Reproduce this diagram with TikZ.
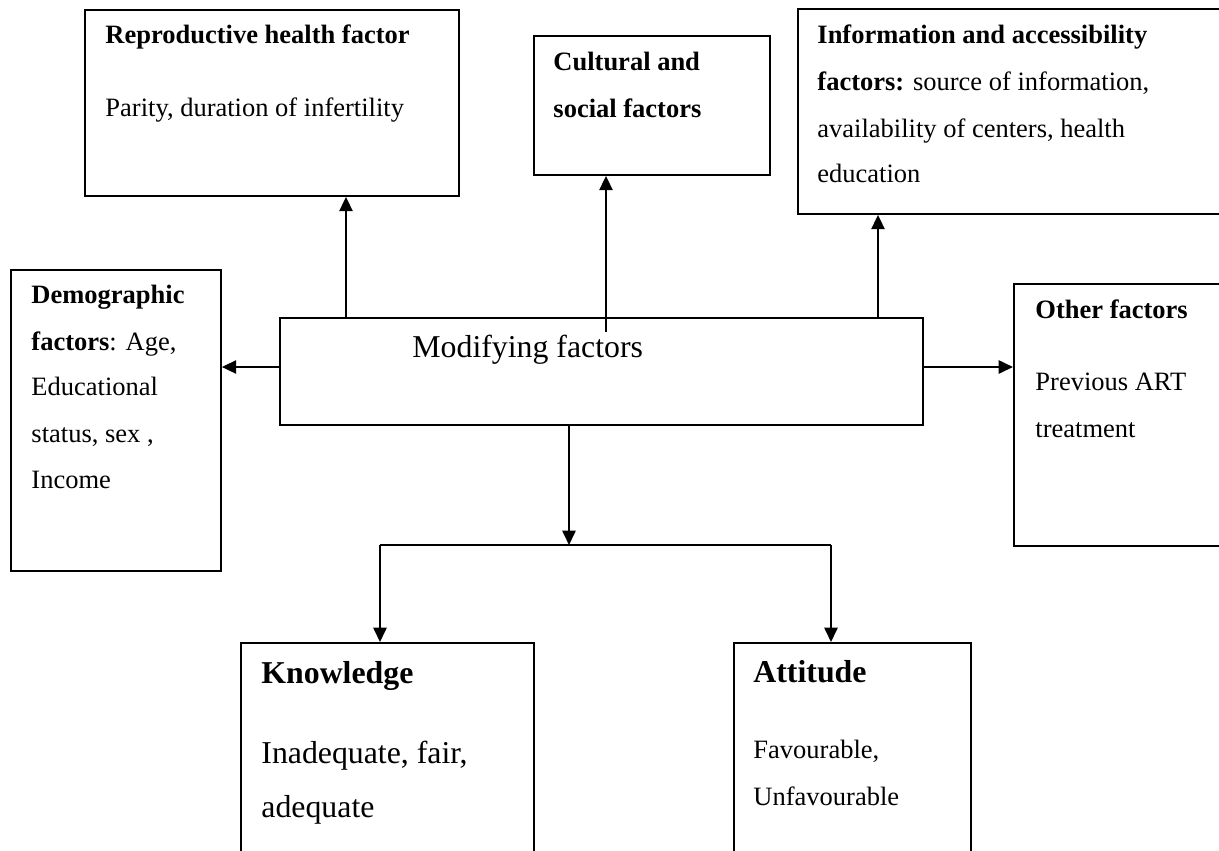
\documentclass[tikz,border=0pt]{standalone}
\usepackage{fontspec}
\setmainfont{Liberation Serif}
\usetikzlibrary{arrows.meta, positioning, calc}
\newcommand{\pxu}{0.4528pt}
\tikzset{%
  factor/.style 2 args={draw, line width=0.85pt, rectangle, anchor=north west, inner sep=0pt,
    minimum width=#1*\pxu, minimum height=#2*\pxu},
  txt/.style={anchor=base west, inner sep=0pt, font=\fontsize{12}{14}\selectfont},
  big/.style={txt, font=\fontsize{14.4}{17}\selectfont},
  edge/.style={line width=0.9pt},
  move/.style={edge, -{Triangle[length=6.5pt, width=6pt]}}
}
\begin{document}
\begin{tikzpicture}[x=\pxu, y=-\pxu]
  \useasboundingbox (0,0) rectangle (1219,850);
  \clip (0,0) rectangle (1219,850);

  % boxes
  \node[factor={374}{186}] (rep) at (84,9) {};
  \node[factor={236}{139}] (cul) at (533,35) {};
  \node[factor={500}{205}] (inf) at (797,8) {};
  \node[factor={210}{301}] (dem) at (10,269) {};
  \node[factor={643}{107}] (mod) at (279,317) {};
  \node[factor={300}{262}] (oth) at (1013,283) {};
  \node[factor={293}{300}] (knw) at (240,642) {};
  \node[factor={237}{300}] (att) at (733,642) {};

  % texts
  \node[txt] (rep1) at (105,43) {\textbf{Reproductive health factor}};
  \node[txt] (rep2) at (105,116) {Parity, duration of infertility};

  \node[txt] (cul1) at (553,70) {\textbf{Cultural and}};
  \node[txt] (cul2) at (553,117) {\textbf{social factors}};

  \node[txt] (inf1) at (817,43) {\textbf{Information and accessibility}};
  \node[txt] (inf2) at (817,90) {\textbf{factors:} source of information,};
  \node[txt] (inf3) at (817,137) {availability of centers, health};
  \node[txt] (inf4) at (817,182) {education};

  \node[txt] (dem1) at (31,303) {\textbf{Demographic}};
  \node[txt] (dem2) at (31,350) {\textbf{factors}: Age,};
  \node[txt] (dem3) at (31,395) {Educational};
  \node[txt] (dem4) at (31,442) {status, sex ,};
  \node[txt] (dem5) at (31,488) {Income};

  \node[big] (mod1) at (412,357) {Modifying factors};

  \node[txt] (oth1) at (1035,318) {\textbf{Other factors}};
  \node[txt] (oth2) at (1035,390) {Previous ART};
  \node[txt] (oth3) at (1035,437) {treatment};

  \node[big] (knw1) at (261,683) {\textbf{Knowledge}};
  \node[big] (knw2) at (261,763) {Inadequate, fair,};
  \node[big] (knw3) at (261,817) {adequate};

  \node[big] (att1) at (753,682) {\textbf{Attitude}};
  \node[txt] (att2) at (753,758) {Favourable,};
  \node[txt] (att3) at (753,805) {Unfavourable};

  % connectors
  \coordinate (torep) at (346,0);
  \coordinate (culfoot) at (606,332);
  \coordinate (toinf) at (878,0);
  \coordinate (midy) at (0,367);
  \coordinate (fork) at (569,545);
  \coordinate (lb) at (380,545);
  \coordinate (rb) at (831,545);

  \draw[move] (mod.north -| torep) -- (rep.south -| torep);
  \draw[move] (culfoot) -- (cul.south -| culfoot);
  \draw[move] (mod.north -| toinf) -- (inf.south -| toinf);
  \draw[move] (mod.west |- midy) -- (dem.east |- midy);
  \draw[move] (mod.east |- midy) -- (oth.west |- midy);
  \draw[move] (mod.south -| fork) -- (fork);
  \draw[edge] (lb) -- (rb);
  \draw[move] (lb) -- (knw.north -| lb);
  \draw[move] (rb) -- (att.north -| rb);
\end{tikzpicture}
\end{document}
